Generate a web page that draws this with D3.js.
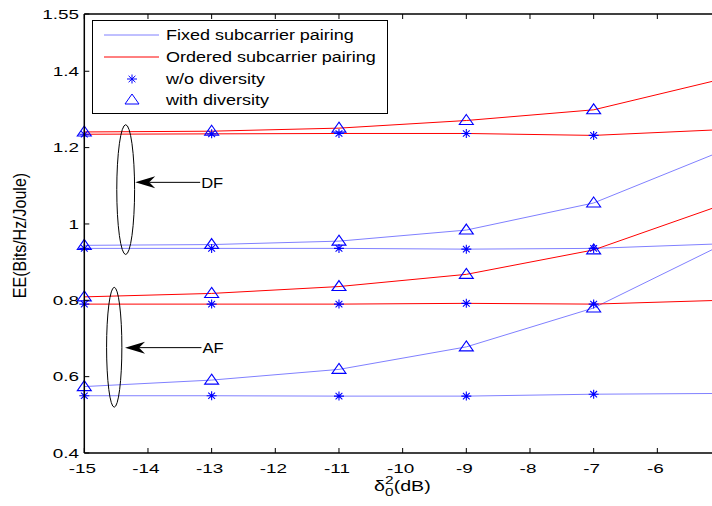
<!DOCTYPE html>
<html lang="en">
<head>
    <meta charset="UTF-8">
    <title>EE vs delta</title>
    <script src="https://d3js.org/d3.v7.min.js"></script>
    <style>
        body { margin: 0; background: #fff; }
        svg { font-family: Arial, "Liberation Sans", sans-serif; display: block; }
    </style>
</head>
<body>
<div id="chart"></div>
<script>
    // x positions of the points (dB)
    const xVals = [-15, -13, -11, -9, -7, -5];

    // DF curves
    const dfOrdWith = [1.241, 1.243, 1.251, 1.271, 1.299, 1.379];
    const dfOrdWo   = [1.235, 1.236, 1.237, 1.237, 1.232, 1.247];
    const dfFixWith = [0.944, 0.946, 0.955, 0.984, 1.055, 1.190];
    const dfFixWo   = [0.936, 0.936, 0.936, 0.934, 0.936, 0.948];

    // AF curves
    const afOrdWith = [0.809, 0.818, 0.836, 0.868, 0.932, 1.049];
    const afOrdWo   = [0.790, 0.790, 0.790, 0.792, 0.790, 0.800];
    const afFixWith = [0.574, 0.591, 0.619, 0.678, 0.780, 0.944];
    const afFixWo   = [0.550, 0.550, 0.549, 0.549, 0.554, 0.556];

    const xTicks = [-15, -14, -13, -12, -11, -10, -9, -8, -7, -6];
    const yTicks = [0.4, 0.6, 0.8, 1, 1.2, 1.4, 1.55];

    const legendLabels = ["Fixed subcarrier pairing", "Ordered subcarrier pairing", "w/o diversity", "with diversity"];

    const width = 712, height = 506;
    const blueLine = "#8080ff", red = "#ff0000", blue = "#0000ff";

    const x = d3.scaleLinear().domain([-15, -5]).range([84.3, 721]);
    const y = d3.scaleLinear().domain([0.4, 1.55]).range([453, 14]);

    const svg = d3.select("#chart").append("svg")
        .attr("width", width)
        .attr("height", height);

    // the source picture is stretched sideways, so text gets a horizontal scale
    function wideText(px, py, str, size, sx, anchor) {
        return svg.append("text")
            .attr("transform", `translate(${px},${py}) scale(${sx},1)`)
            .attr("dy", "0.35em")
            .attr("font-size", size)
            .attr("text-anchor", anchor || "start")
            .text(str);
    }

    const series = [
        { v: dfOrdWo, color: red, mark: "star" },
        { v: dfOrdWith, color: red, mark: "tri" },
        { v: dfFixWo, color: blueLine, mark: "star" },
        { v: dfFixWith, color: blueLine, mark: "tri" },
        { v: afFixWo, color: blueLine, mark: "star" },
        { v: afFixWith, color: blueLine, mark: "tri" },
        { v: afOrdWo, color: red, mark: "star" },
        { v: afOrdWith, color: red, mark: "tri" }
    ];

    const line = d3.line()
        .x((d, i) => x(xVals[i]))
        .y(d => y(d));

    const starPath = "M0,-4.5V4.5M-5,0H5M-3.4,-3.2L3.4,3.2M-3.4,3.2L3.4,-3.2";
    const triPath = "M0,-6L7,4L-7,4Z";

    series.forEach(s => {
        svg.append("path")
            .attr("d", line(s.v))
            .attr("fill", "none")
            .attr("stroke", s.color)
            .attr("stroke-width", 1);
    });

    series.forEach(s => {
        svg.append("g").selectAll("path")
            .data(s.v)
            .join("path")
            .attr("transform", (d, i) => `translate(${x(xVals[i])},${y(d)})`)
            .attr("d", s.mark === "star" ? starPath : triPath)
            .attr("fill", "none")
            .attr("stroke", blue)
            .attr("stroke-width", 1.1);
    });

    // axes frame
    svg.append("line").attr("x1", x(-15)).attr("x2", width).attr("y1", y(0.4)).attr("y2", y(0.4))
        .attr("stroke", "#000").attr("stroke-width", 1.5);
    svg.append("line").attr("x1", x(-15)).attr("x2", width).attr("y1", y(1.55)).attr("y2", y(1.55))
        .attr("stroke", "#000").attr("stroke-width", 1.5);
    svg.append("line").attr("x1", x(-15)).attr("x2", x(-15)).attr("y1", y(0.4)).attr("y2", y(1.55))
        .attr("stroke", "#000").attr("stroke-width", 1.5);

    xTicks.forEach(t => {
        svg.append("line").attr("x1", x(t)).attr("x2", x(t)).attr("y1", y(0.4)).attr("y2", y(0.4) - 5)
            .attr("stroke", "#000");
        svg.append("line").attr("x1", x(t)).attr("x2", x(t)).attr("y1", y(1.55)).attr("y2", y(1.55) + 5)
            .attr("stroke", "#000");
        wideText(x(t) - 2, 468, t, 13.5, 1.4, "middle");
    });

    yTicks.forEach(t => {
        svg.append("line").attr("x1", x(-15)).attr("x2", x(-15) + 5).attr("y1", y(t)).attr("y2", y(t))
            .attr("stroke", "#000");
        wideText(79, y(t), t, 13.5, 1.4, "end");
    });

    // axis titles
    svg.append("text")
        .attr("transform", `translate(26,${(y(0.4) + y(1.55)) / 2 + 2}) rotate(-90) scale(1,1.2)`)
        .attr("text-anchor", "middle")
        .attr("font-size", 16)
        .text("EE(Bits/Hz/Joule)");

    const xl = svg.append("text")
        .attr("transform", "translate(374,491) scale(1.4,1)")
        .attr("font-size", 14);
    xl.append("tspan").text("\u03b4");
    xl.append("tspan").attr("font-size", 11).attr("dy", 5).text("0");
    xl.append("tspan").attr("font-size", 11).attr("dx", -6).attr("dy", -12).text("2");
    xl.append("tspan").attr("dy", 7).text("(dB)");

    // annotations: ellipses + arrows
    const notes = [
        { cx: -14.35, cy: 1.09, rx: 0.14, ry: 0.17, tipX: -14.2, tipY: 1.109, endX: -13.18, label: "DF" },
        { cx: -14.53, cy: 0.677, rx: 0.12, ry: 0.157, tipX: -14.36, tipY: 0.676, endX: -13.16, label: "AF" }
    ];

    notes.forEach(n => {
        svg.append("ellipse")
            .attr("cx", x(n.cx)).attr("cy", y(n.cy))
            .attr("rx", x(n.cx + n.rx) - x(n.cx))
            .attr("ry", y(n.cy - n.ry) - y(n.cy))
            .attr("fill", "none").attr("stroke", "#000").attr("stroke-width", 1);
        const tx = x(n.tipX), ty = y(n.tipY);
        svg.append("line").attr("x1", tx + 14).attr("x2", x(n.endX)).attr("y1", ty).attr("y2", ty)
            .attr("stroke", "#000").attr("stroke-width", 1);
        svg.append("path")
            .attr("d", `M${tx},${ty}L${tx + 20},${ty - 6}L${tx + 14},${ty}L${tx + 20},${ty + 6}Z`)
            .attr("fill", "#000");
        wideText(x(n.endX) + 1, ty, n.label, 15, 1.1);
    });

    // legend
    const lg = svg.append("g");
    lg.append("rect").attr("x", 92.5).attr("y", 20.5).attr("width", 295).attr("height", 93)
        .attr("fill", "#fff").attr("stroke", "#000").attr("stroke-width", 1);
    const rowY = [35, 57, 79, 100];
    lg.append("line").attr("x1", 104).attr("x2", 159).attr("y1", rowY[0]).attr("y2", rowY[0])
        .attr("stroke", blueLine);
    lg.append("line").attr("x1", 104).attr("x2", 159).attr("y1", rowY[1]).attr("y2", rowY[1])
        .attr("stroke", red);
    lg.append("path").attr("transform", `translate(132,${rowY[2]})`).attr("d", starPath)
        .attr("fill", "none").attr("stroke", blue);
    lg.append("path").attr("transform", `translate(132,${rowY[3]})`).attr("d", triPath)
        .attr("fill", "none").attr("stroke", blue);
    legendLabels.forEach((t, i) => {
        wideText(166, rowY[i], t, 15, 1.2);
    });
</script>
</body>
</html>
